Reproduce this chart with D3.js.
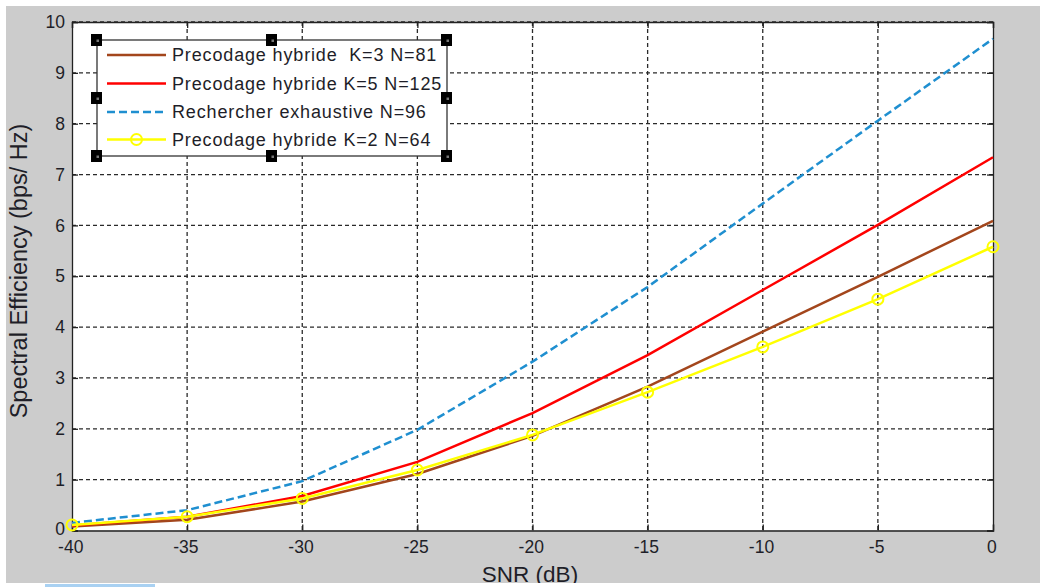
<!DOCTYPE html>
<html><head><meta charset="utf-8">
<script src="https://cdn.jsdelivr.net/npm/d3@7"></script>
<style>html,body{margin:0;padding:0;background:#fff;}svg{display:block;}</style>
</head><body>
<svg id="chart" width="1046" height="587"></svg>
<script>
const snr = [-40, -35, -30, -25, -20, -15, -10, -5, 0];
const brownK3 = [0.08, 0.21, 0.57, 1.11, 1.86, 2.83, 3.91, 4.99, 6.09];
const redK5 = [0.10, 0.27, 0.68, 1.35, 2.31, 3.45, 4.73, 6.01, 7.34];
const blueExh = [0.15, 0.40, 0.97, 1.98, 3.32, 4.79, 6.43, 8.06, 9.67];
const yellowK2 = [0.11, 0.27, 0.63, 1.19, 1.88, 2.72, 3.61, 4.55, 5.58];
const xTicks = [-40, -35, -30, -25, -20, -15, -10, -5, 0];
const yTicks = [0, 1, 2, 3, 4, 5, 6, 7, 8, 9, 10];
const seriesNames = ["Precodage hybride  K=3 N=81", "Precodage hybride K=5 N=125", "Rechercher exhaustive N=96", "Precodage hybride K=2 N=64"];

const svg = d3.select("#chart");
const font = "Arial, 'Liberation Sans', sans-serif";
// figure background
svg.append("rect").attr("x", 6).attr("y", 6).attr("width", 1034).attr("height", 577).attr("fill", "#cccccc");

const L = 72, R = 993, T = 22, B = 530.5;
const x = d3.scaleLinear().domain([-40, 0]).range([L, R]);
const y = d3.scaleLinear().domain([0, 10]).range([B, T]);

svg.append("rect").attr("x", L).attr("y", T).attr("width", R - L).attr("height", B - T).attr("fill", "#fff");

// grid
const g = svg.append("g");
g.selectAll(".vg").data(xTicks.slice(1, -1)).join("line")
  .attr("x1", d => x(d)).attr("x2", d => x(d)).attr("y1", T).attr("y2", B)
  .attr("stroke", "#2a2a2a").attr("stroke-width", 1.3).attr("stroke-dasharray", "4,3");
g.selectAll(".hg").data(yTicks.slice(1)).join("line")
  .attr("x1", L).attr("x2", R).attr("y1", d => y(d)).attr("y2", d => y(d))
  .attr("stroke", "#2a2a2a").attr("stroke-width", 1.3).attr("stroke-dasharray", "4,3");

// axes
const fmt = d => String(d);
const xAxis = d3.axisBottom(x).tickValues(xTicks).tickSize(-6).tickPadding(10).tickFormat(fmt);
const xTop = d3.axisTop(x).tickValues(xTicks).tickSize(-6).tickFormat("");
const yAxis = d3.axisLeft(y).tickValues(yTicks).tickSize(-6).tickPadding(7).tickFormat(fmt);
const yRight = d3.axisRight(y).tickValues(yTicks).tickSize(-6).tickFormat("");
function style(sel) {
  sel.attr("font-size", null).attr("font-family", null);
  sel.selectAll("path.domain").attr("stroke", "#222").attr("stroke-width", 1.3);
  sel.selectAll(".tick line").attr("stroke", "#222").attr("stroke-width", 1.3);
  sel.selectAll("text").style("font-family", font).style("font-size", "17.5px").attr("fill", "#1e1e28");
}
svg.append("g").attr("transform", `translate(0,${B})`).call(xAxis).call(style).selectAll("text").attr("dy", "0.7em").attr("dx", "-0.1em");
svg.append("g").attr("transform", `translate(0,${T})`).call(xTop).call(style);
svg.append("g").attr("transform", `translate(${L},0)`).call(yAxis).call(style)
  .selectAll(".tick").filter(d => d === 0).select("text").attr("dy", "0.25em");
svg.append("g").attr("transform", `translate(${R},0)`).call(yRight).call(style);

// axis labels
svg.append("text").attr("x", 530).attr("y", 582).attr("text-anchor", "middle")
  .style("font-family", font).style("font-size", "22.5px").attr("fill", "#1e1e28").text("SNR (dB)");
svg.append("rect").attr("x", 0).attr("y", 583).attr("width", 1046).attr("height", 4).attr("fill", "#fff");
svg.append("rect").attr("x", 45).attr("y", 584).attr("width", 110).attr("height", 3).attr("fill", "#a9d1f2");
svg.append("text").attr("transform", `translate(26.5,${271}) rotate(-90)`).attr("text-anchor", "middle")
  .style("font-family", font).style("font-size", "23.5px").attr("fill", "#1e1e28").text("Spectral Efficiency (bps/ Hz)");

// lines
const line = d3.line().x((d, i) => x(snr[i])).y(d => y(d));
const series = [
  {v: brownK3, c: "#a3461c", dash: null},
  {v: redK5, c: "#ff0000", dash: null},
  {v: blueExh, c: "#1f8fd0", dash: "8,4"},
  {v: yellowK2, c: "#ffff00", dash: null, marker: true}
];
const lg = svg.append("g");
series.forEach(s => {
  lg.append("path").datum(s.v).attr("d", line).attr("fill", "none").attr("stroke", s.c)
    .attr("stroke-width", 2.5).attr("stroke-dasharray", s.dash);
  if (s.marker) {
    lg.selectAll(null).data(s.v).join("circle").attr("cx", (d, i) => x(snr[i])).attr("cy", d => y(d))
      .attr("r", 5.5).attr("fill", "none").attr("stroke", s.c).attr("stroke-width", 2);
  }
});

// legend
const LX = 97, LY = 40, LW = 350, LH = 116;
const leg = svg.append("g");
leg.append("rect").attr("x", LX).attr("y", LY).attr("width", LW).attr("height", LH).attr("fill", "#fff").attr("stroke", "#333").attr("stroke-width", 1.3);
const rowsY = [55, 83.5, 112, 139.5];
series.forEach((s, i) => {
  leg.append("line").attr("x1", 107).attr("x2", 166).attr("y1", rowsY[i]).attr("y2", rowsY[i])
    .attr("stroke", s.c).attr("stroke-width", 2.5).attr("stroke-dasharray", s.dash);
  if (s.marker) leg.append("circle").attr("cx", 136.5).attr("cy", rowsY[i]).attr("r", 5.5).attr("fill", "none").attr("stroke", s.c).attr("stroke-width", 2);
  leg.append("text").attr("x", 172).attr("y", rowsY[i]).attr("dy", "0.36em").style("font-family", font)
    .style("font-size", "18px").attr("letter-spacing", 0.85).attr("fill", "#1e1e28").style("white-space", "pre").text(seriesNames[i]);
});
// selection handles
const hx = [LX, LX + LW / 2, LX + LW], hy = [LY, LY + LH / 2, LY + LH];
const handles = [];
hx.forEach((a, i) => hy.forEach((b, j) => { if (!(i === 1 && j === 1)) handles.push([a, b]); }));
leg.selectAll(".h").data(handles).join("rect").attr("x", d => d[0] - 6).attr("y", d => d[1] - 6)
  .attr("width", 11).attr("height", 12).attr("fill", "#000");
leg.selectAll(".hl").data(handles).join("rect").attr("x", d => d[0] - 0.5).attr("y", d => d[1] - 0.5)
  .attr("width", 2.5).attr("height", 2.5).attr("fill", "#777");
</script>
</body></html>
